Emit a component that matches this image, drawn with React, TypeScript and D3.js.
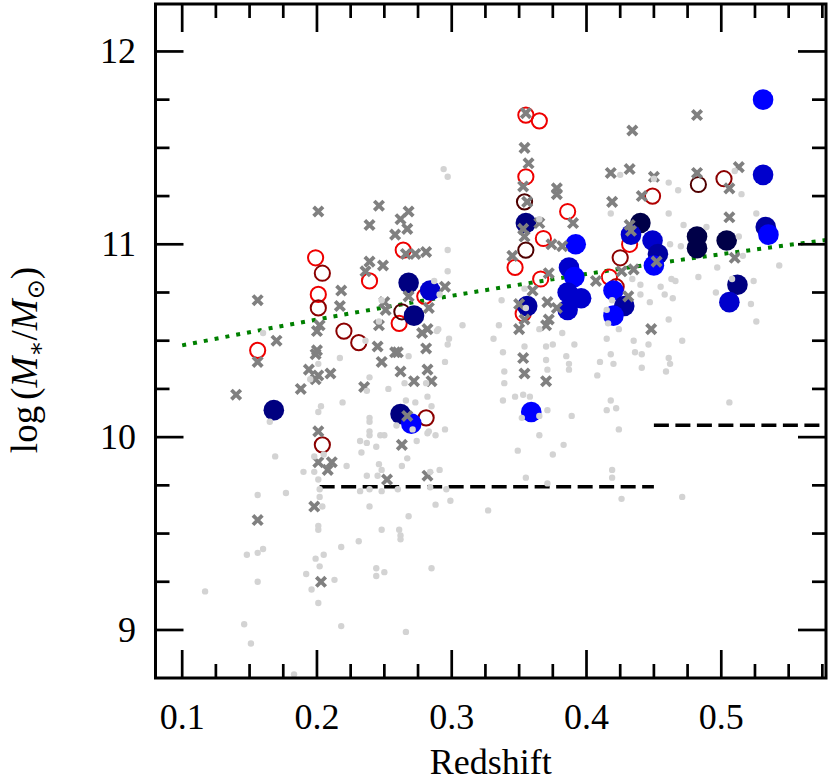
import React from "react";
import * as d3 from "d3";

// ---------- data (redshift, log stellar mass) ----------
const xTickValues = [0.1, 0.2, 0.3, 0.4, 0.5];
const yTickValues = [9, 10, 11, 12];

const grayDots: [number, number][] = [
  [0.294,11.39],[0.297,11.35],[0.297,10.97],[0.248,10.71],[0.160,10.54],[0.236,10.50],[0.217,10.41],[0.201,10.38],[0.195,10.30],[0.239,10.31],
  [0.237,10.24],[0.253,10.25],[0.165,10.08],[0.203,10.16],[0.201,10.13],[0.219,10.18],[0.239,10.10],[0.239,10.08],[0.297,10.86],[0.287,10.81],
  [0.291,10.74],[0.246,10.60],[0.308,10.58],[0.289,10.55],[0.169,9.90],[0.268,10.42],[0.295,10.39],[0.297,10.48],[0.298,10.51],[0.266,10.19],
  [0.273,10.18],[0.282,10.21],[0.285,10.16],[0.265,10.28],[0.282,10.02],[0.288,10.01],[0.295,10.04],[0.274,9.98],[0.259,10.06],[0.271,10.04],
  [0.283,10.03],[0.239,10.03],[0.239,10.01],[0.247,10.01],[0.250,10.01],[0.232,9.98],[0.237,9.97],[0.244,9.95],[0.233,9.92],[0.198,9.90],
  [0.205,9.91],[0.190,9.82],[0.198,9.82],[0.201,9.78],[0.222,9.85],[0.246,9.86],[0.248,9.83],[0.237,9.80],[0.245,9.80],[0.263,9.85],
  [0.284,9.82],[0.291,9.83],[0.267,9.89],[0.232,9.72],[0.239,9.73],[0.248,9.72],[0.260,9.73],[0.284,9.74],[0.296,9.73],[0.299,9.67],
  [0.288,9.65],[0.327,9.62],[0.156,9.70],[0.177,9.71],[0.202,9.69],[0.202,9.73],[0.204,9.64],[0.239,9.64],[0.268,9.59],[0.201,9.54],
  [0.201,9.52],[0.248,9.52],[0.261,9.52],[0.262,9.49],[0.262,9.47],[0.231,9.46],[0.218,9.43],[0.148,9.39],[0.156,9.40],[0.160,9.42],
  [0.199,9.37],[0.202,9.33],[0.205,9.39],[0.192,9.29],[0.244,9.32],[0.244,9.28],[0.250,9.30],[0.285,9.32],[0.213,9.26],[0.196,9.21],
  [0.156,9.25],[0.117,9.20],[0.201,9.14],[0.146,9.03],[0.151,8.93],[0.218,9.02],[0.266,8.99],[0.183,8.77],
  [0.290,10.56],[0.281,10.28],[0.365,11.13],[0.354,10.77],[0.355,10.67],[0.337,10.71],[0.335,10.58],[0.331,10.51],[0.365,10.56],[0.382,10.54],
  [0.370,10.47],[0.375,10.48],[0.391,10.48],[0.385,10.42],[0.410,10.39],[0.415,10.51],[0.416,10.59],[0.338,10.44],[0.339,10.34],[0.339,10.28],
  [0.354,10.47],[0.370,10.40],[0.387,10.35],[0.408,10.32],[0.371,10.35],[0.387,10.38],[0.420,10.38],[0.418,10.43],[0.435,10.50],[0.446,10.48],
  [0.436,10.44],[0.441,10.43],[0.441,10.36],[0.459,10.34],[0.461,10.41],[0.462,10.38],[0.471,10.50],
  [0.425,11.36],[0.450,11.34],[0.461,11.32],[0.468,11.28],[0.510,11.38],[0.515,11.26],[0.418,11.16],[0.461,11.16],[0.472,11.10],[0.489,11.09],
  [0.526,11.16],[0.462,11.00],[0.470,10.99],[0.513,11.04],[0.516,10.94],[0.497,10.88],[0.483,10.83],[0.524,10.81],[0.543,10.89],[0.463,10.82],
  [0.466,10.81],[0.455,10.78],[0.458,10.74],[0.464,10.72],[0.440,10.79],[0.440,10.74],[0.447,10.70],[0.434,10.82],[0.496,10.75],[0.508,10.82],
  [0.522,10.69],[0.461,10.61],[0.526,10.60],[0.424,10.56],[0.419,10.71],[0.415,10.66],
  [0.338,10.19],[0.347,10.21],[0.353,10.22],[0.358,10.21],[0.371,10.14],[0.389,10.11],[0.418,10.19],[0.415,10.14],[0.422,10.15],[0.424,10.04],
  [0.352,10.10],[0.365,10.11],[0.365,10.01],[0.349,9.93],[0.383,9.96],[0.375,9.91],[0.355,9.79],[0.371,9.76],[0.419,9.83],[0.419,9.79],
  [0.426,9.68],[0.471,9.69],[0.506,10.18]
];

const grayCrosses: [number, number][] = [
  [0.156,10.71],[0.156,10.39],[0.140,10.22],[0.156,9.57],[0.201,11.17],[0.246,11.20],[0.239,11.10],[0.239,10.91],[0.236,10.86],[0.249,10.89],
  [0.218,10.76],[0.217,10.68],[0.250,10.70],[0.251,10.66],[0.202,10.58],[0.200,10.55],[0.170,10.50],[0.246,10.58],[0.245,10.47],[0.248,10.39],
  [0.200,10.45],[0.199,10.43],[0.194,10.35],[0.201,10.32],[0.199,10.30],[0.210,10.33],[0.188,10.25],[0.235,10.26],[0.201,10.03],[0.201,9.87],
  [0.211,9.87],[0.208,9.83],[0.198,9.64],[0.203,9.25],[0.258,10.44],[0.260,10.44],[0.262,10.34],[0.272,10.29],[0.281,10.46],[0.282,10.35],
  [0.285,10.29],[0.263,9.96],[0.252,9.78],[0.282,9.80],[0.267,10.11],[0.268,11.17],[0.262,11.13],[0.267,11.08],[0.258,11.05],[0.273,10.95],
  [0.266,10.95],[0.281,10.96],[0.295,10.78],[0.268,10.73],[0.283,10.67],[0.278,10.54],[0.282,10.56],
  [0.355,11.68],[0.354,11.50],[0.357,11.42],[0.353,11.30],[0.378,11.29],[0.378,11.26],[0.356,11.22],[0.390,11.11],[0.353,11.08],[0.365,11.11],
  [0.354,11.04],[0.374,11.00],[0.382,10.99],[0.345,10.94],[0.372,10.85],[0.407,10.81],[0.360,10.76],[0.354,10.61],[0.350,10.56],[0.371,10.70],
  [0.378,10.67],[0.372,10.61],[0.370,10.58],[0.353,10.41],[0.354,10.33],[0.370,10.29],[0.448,10.56],[0.350,10.69],
  [0.482,11.67],[0.434,11.59],[0.418,11.37],[0.432,11.39],[0.450,11.35],[0.482,11.37],[0.513,11.40],[0.506,11.29],[0.419,11.22],[0.441,11.25],
  [0.506,11.14],[0.432,11.10],[0.433,11.07],[0.452,10.91],[0.435,10.87],[0.510,10.93],[0.431,10.73],[0.426,10.86]
];

// [redshift, logM, tone]  tone 0 = bright red ... 3 = darkest red
const openCircles: [number, number, number][] = [
  [0.199,10.93,0],[0.201,10.74,0],[0.239,10.81,0],[0.156,10.45,0],[0.264,10.97,0],[0.280,10.73,0],[0.261,10.59,0],
  [0.355,11.67,0],[0.365,11.64,0],[0.355,11.35,0],[0.386,11.17,0],[0.368,11.03,0],[0.347,10.88,0],[0.366,10.82,0],
  [0.353,10.64,0],[0.432,11.00,0],[0.417,10.83,0],
  [0.204,10.85,2],[0.201,10.67,2],[0.220,10.55,2],[0.231,10.49,2],[0.204,9.96,2],[0.281,10.10,2],[0.263,10.65,3],
  [0.354,11.22,3],[0.355,10.97,3],[0.425,10.93,2],[0.483,11.31,3],[0.502,11.34,2],[0.449,11.25,1],[0.422,10.78,1]
];

// [redshift, logM, tone]  tone 0 = bright blue ... 4 = darkest navy
const filledCircles: [number, number, number][] = [
  [0.168,10.14,3],[0.262,10.12,3],[0.270,10.07,0],[0.268,10.80,3],[0.284,10.76,1],[0.272,10.63,3],
  [0.355,11.11,3],[0.356,10.68,2],[0.359,10.13,0],[0.392,11.00,0],[0.387,10.88,1],[0.391,10.83,0],
  [0.386,10.75,1],[0.396,10.72,1],[0.386,10.66,1],[0.440,11.11,4],[0.433,11.05,1],[0.449,11.02,1],
  [0.453,10.95,2],[0.450,10.89,0],[0.420,10.76,0],[0.428,10.68,2],[0.420,10.63,0],[0.482,11.04,4],
  [0.482,10.98,4],[0.504,11.02,4],[0.512,10.79,3],[0.506,10.70,1],[0.531,11.75,0],[0.531,11.36,1],
  [0.533,11.09,2],[0.535,11.05,0]
];

const fitZ = [0.1, 0.2, 0.3, 0.4, 0.5, 0.578];
const fitM = [10.476, 10.61, 10.733, 10.846, 10.949, 11.022];

const limitZ1 = [0.202, 0.45];
const limitM1 = 9.743;
const limitZ2 = [0.45, 0.578];
const limitM2 = 10.062;

const redTones = ["#ee0000", "#b00000", "#8b0000", "#500000"];
const blueTones = ["#0000ff", "#0000cc", "#0000a0", "#000080", "#000048"];

// ---------- layout ----------
const W = 830;
const H = 784;
const L = 155.5, R = 826, T = 4, B = 678;

export default function App() {
  const x = d3.scaleLinear().domain([0.0802, 0.5777]).range([L, R]);
  const y = d3.scaleLinear().domain([8.751, 12.246]).range([B, T]);

  const xMinor = d3.range(0.125, 0.578, 0.025).filter(v => !xTickValues.some(m => Math.abs(m - v) < 1e-6));
  const yMinor = d3.range(9.25, 12.2, 0.25).filter(v => !yTickValues.some(m => Math.abs(m - v) < 1e-6));

  const fitLine = d3.line<number>().x((_, i) => x(fitZ[i])).y((_, i) => y(fitM[i])).curve(d3.curveMonotoneX);

  const crossPath = (cx: number, cy: number) => {
    const a = 4.7;
    return `M${cx - a},${cy - a}L${cx + a},${cy + a}M${cx - a},${cy + a}L${cx + a},${cy - a}`;
  };

  const MAJ = 28, MIN = 14, TW = 2.7;
  const font = '"Liberation Serif", "DejaVu Serif", "Times New Roman", serif';

  return (
    <svg width={W} height={H} style={{ position: "absolute", left: 0, top: 0, background: "#fff", fontFamily: font }}>
      <defs>
        <clipPath id="plotArea">
          <rect x={L} y={T} width={R - L} height={B - T} />
        </clipPath>
      </defs>
      <rect x={0} y={0} width={W} height={H} fill="#fff" />
      <g clipPath="url(#plotArea)">
        <path d={fitLine(fitZ) || ""} fill="none" stroke="#008000" strokeWidth={4} strokeDasharray="4 7" />
        <line x1={x(limitZ1[0])} x2={x(limitZ1[1])} y1={y(limitM1)} y2={y(limitM1)} stroke="#000" strokeWidth={3.5} strokeDasharray="15 6.5" />
        <line x1={x(limitZ2[0])} x2={x(limitZ2[1])} y1={y(limitM2)} y2={y(limitM2)} stroke="#000" strokeWidth={3.5} strokeDasharray="15 6.5" />
        {openCircles.map((d, i) => (
          <circle key={"r" + i} cx={x(d[0])} cy={y(d[1])} r={7.6} fill="none" stroke={redTones[d[2]]} strokeWidth={2} />
        ))}
        {filledCircles.map((d, i) => (
          <circle key={"b" + i} cx={x(d[0])} cy={y(d[1])} r={10.3} fill={blueTones[d[2]]} />
        ))}
        {grayCrosses.map((d, i) => (
          <path key={"x" + i} d={crossPath(x(d[0]), y(d[1]))} stroke="#808080" strokeWidth={3.8} fill="none" />
        ))}
        {grayDots.map((d, i) => (
          <circle key={"g" + i} cx={x(d[0])} cy={y(d[1])} r={3.2} fill="#d3d3d3" />
        ))}
      </g>

      {/* ticks */}
      <g stroke="#000" strokeWidth={TW}>
        {xTickValues.map(v => (
          <g key={"xt" + v}>
            <line x1={x(v)} x2={x(v)} y1={B} y2={B - MAJ} />
            <line x1={x(v)} x2={x(v)} y1={T} y2={T + MAJ} />
          </g>
        ))}
        {xMinor.map(v => (
          <g key={"xm" + v}>
            <line x1={x(v)} x2={x(v)} y1={B} y2={B - MIN} />
            <line x1={x(v)} x2={x(v)} y1={T} y2={T + MIN} />
          </g>
        ))}
        {yTickValues.map(v => (
          <g key={"yt" + v}>
            <line x1={L} x2={L + MAJ} y1={y(v)} y2={y(v)} />
            <line x1={R} x2={R - MAJ} y1={y(v)} y2={y(v)} />
          </g>
        ))}
        {yMinor.map(v => (
          <g key={"ym" + v}>
            <line x1={L} x2={L + MIN} y1={y(v)} y2={y(v)} />
            <line x1={R} x2={R - MIN} y1={y(v)} y2={y(v)} />
          </g>
        ))}
      </g>
      <rect x={L} y={T} width={R - L} height={B - T} fill="none" stroke="#000" strokeWidth={3} />

      {/* tick labels */}
      {xTickValues.map(v => (
        <text key={"xl" + v} x={x(v)} y={729} textAnchor="middle" fontSize={36} fill="#000">
          {v.toFixed(1)}
        </text>
      ))}
      {yTickValues.map(v => (
        <text key={"yl" + v} x={136} y={y(v) + 12} textAnchor="end" fontSize={36} fill="#000">
          {v}
        </text>
      ))}

      {/* axis labels */}
      <text x={(L + R) / 2} y={774} textAnchor="middle" fontSize={36} fill="#000">Redshift</text>
      <text transform={`translate(37,360) rotate(-90)`} textAnchor="middle" fontSize={37} fill="#000">
        <tspan>log</tspan>
        <tspan dx={6}>(</tspan>
        <tspan fontStyle="italic">M</tspan>
        <tspan fontSize={24} dy={7}>∗</tspan>
        <tspan dy={-7}>/</tspan>
        <tspan fontStyle="italic">M</tspan>
        <tspan fontSize={24} dy={7} style={{ fontFamily: '"DejaVu Sans", sans-serif' }}>⊙</tspan>
        <tspan dy={-7}>)</tspan>
      </text>
    </svg>
  );
}
